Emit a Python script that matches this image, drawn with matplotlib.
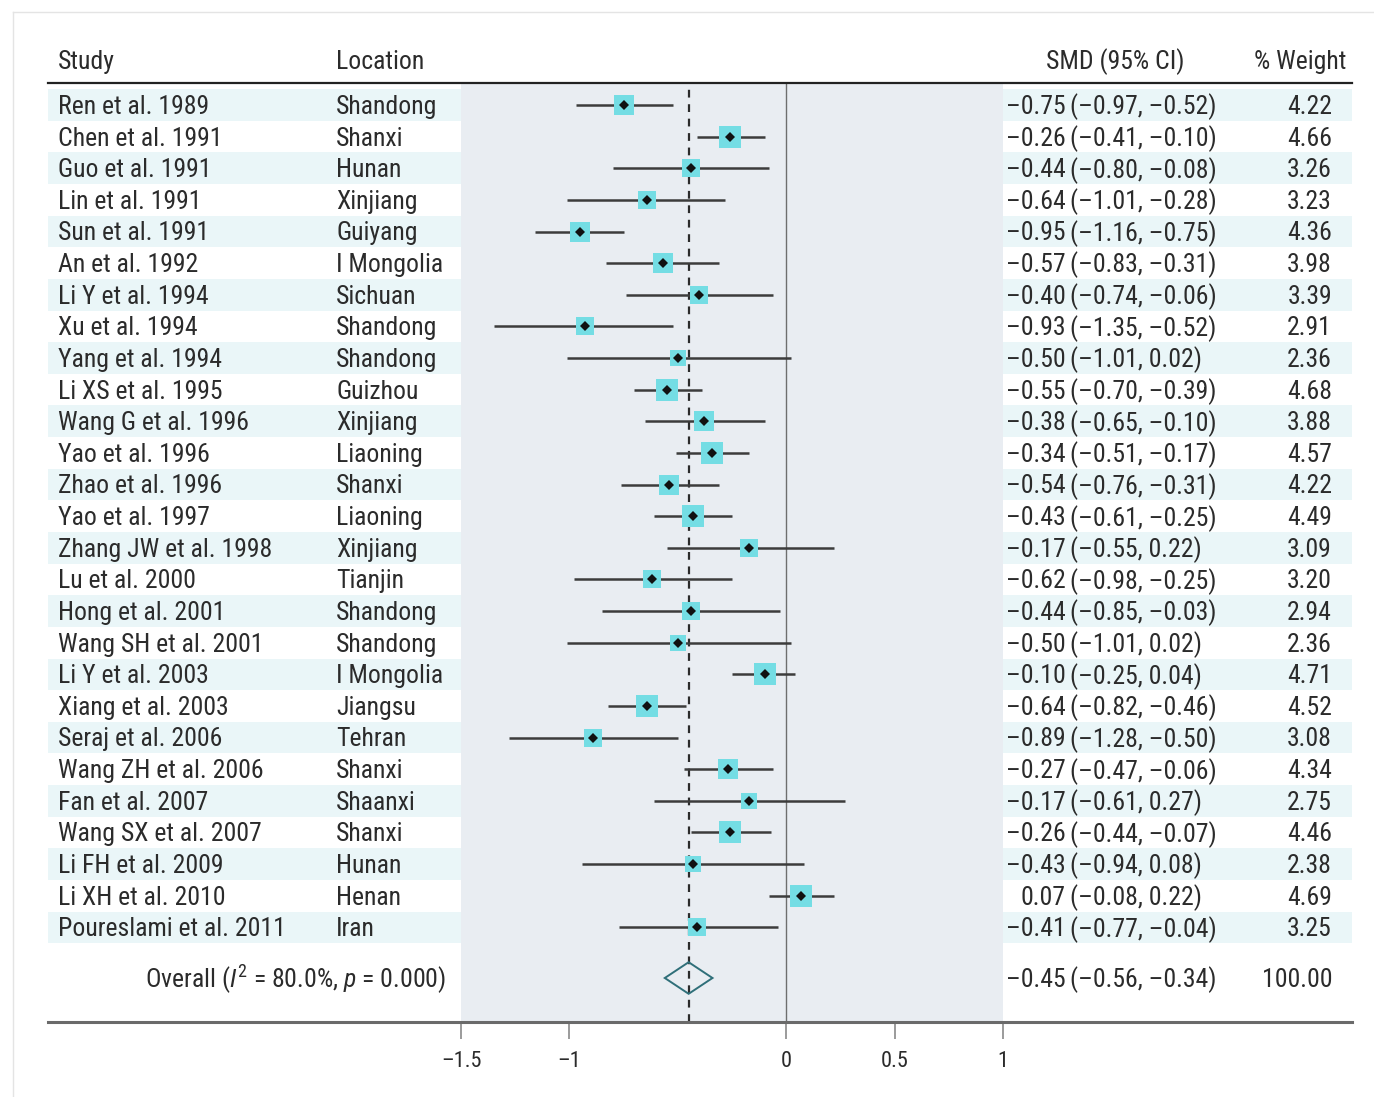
import matplotlib
matplotlib.use("Agg")
import matplotlib.pyplot as plt
import matplotlib.transforms as mtransforms
from matplotlib.patches import Rectangle, Polygon
from matplotlib.lines import Line2D
import numpy as np

plt.rcParams['font.family'] = ['Roboto Condensed', 'DejaVu Sans']
plt.rcParams['mathtext.fontset'] = 'custom'
plt.rcParams['mathtext.rm'] = 'Roboto Condensed'
plt.rcParams['mathtext.it'] = 'Roboto Condensed:italic'

# data
studies = ["Ren et al. 1989", "Chen et al. 1991", "Guo et al. 1991", "Lin et al. 1991",
           "Sun et al. 1991", "An et al. 1992", "Li Y et al. 1994", "Xu et al. 1994",
           "Yang et al. 1994", "Li XS et al. 1995", "Wang G et al. 1996", "Yao et al. 1996",
           "Zhao et al. 1996", "Yao et al. 1997", "Zhang JW et al. 1998", "Lu et al. 2000",
           "Hong et al. 2001", "Wang SH et al. 2001", "Li Y et al. 2003", "Xiang et al. 2003",
           "Seraj et al. 2006", "Wang ZH et al. 2006", "Fan et al. 2007", "Wang SX et al. 2007",
           "Li FH et al. 2009", "Li XH et al. 2010", "Poureslami et al. 2011"]
locations = ["Shandong", "Shanxi", "Hunan", "Xinjiang", "Guiyang", "I Mongolia", "Sichuan",
             "Shandong", "Shandong", "Guizhou", "Xinjiang", "Liaoning", "Shanxi", "Liaoning",
             "Xinjiang", "Tianjin", "Shandong", "Shandong", "I Mongolia", "Jiangsu", "Tehran",
             "Shanxi", "Shaanxi", "Shanxi", "Hunan", "Henan", "Iran"]
smd = [-0.75, -0.26, -0.44, -0.64, -0.95, -0.57, -0.40, -0.93, -0.50, -0.55, -0.38, -0.34,
       -0.54, -0.43, -0.17, -0.62, -0.44, -0.50, -0.10, -0.64, -0.89, -0.27, -0.17, -0.26,
       -0.43, 0.07, -0.41]
ci_lo = [-0.97, -0.41, -0.80, -1.01, -1.16, -0.83, -0.74, -1.35, -1.01, -0.70, -0.65, -0.51,
         -0.76, -0.61, -0.55, -0.98, -0.85, -1.01, -0.25, -0.82, -1.28, -0.47, -0.61, -0.44,
         -0.94, -0.08, -0.77]
ci_hi = [-0.52, -0.10, -0.08, -0.28, -0.75, -0.31, -0.06, -0.52, 0.02, -0.39, -0.10, -0.17,
         -0.31, -0.25, 0.22, -0.25, -0.03, 0.02, 0.04, -0.46, -0.50, -0.06, 0.27, -0.07,
         0.08, 0.22, -0.04]
weights = [4.22, 4.66, 3.26, 3.23, 4.36, 3.98, 3.39, 2.91, 2.36, 4.68, 3.88, 4.57, 4.22, 4.49,
           3.09, 3.20, 2.94, 2.36, 4.71, 4.52, 3.08, 4.34, 2.75, 4.46, 2.38, 4.69, 3.25]
overall = (-0.45, -0.56, -0.34)
overall_weight = 100.00
xticks = [-1.5, -1, 0, 0.5, 1]
xtick_labels = ["\u20131.5", "\u20131", "0", "0.5", "1"]


def fmt(v):
    return f"{v:.2f}".replace("-", "\u2013")


W, H = 1374, 1097
fig = plt.figure(figsize=(W / 100, H / 100), dpi=100)
fig.patch.set_facecolor("white")

# pixel layout
row0_px, row_step = 105.0, 31.63
top_px, bot_px = 83.0, 1022.0
x0_px, x1_px = 461.0, 1003.0
n = len(studies)
overall_row = (978.0 - row0_px) / row_step
dy = 0.06  # small nudge so text sits like the original

ax = fig.add_axes([x0_px / W, 1 - bot_px / H, (x1_px - x0_px) / W, (bot_px - top_px) / H])
ax.set_facecolor("#e9edf2")
ax.set_xlim(-1.5, 1)
ax.set_ylim((bot_px - row0_px) / row_step, (top_px - row0_px) / row_step)
for s in ax.spines.values():
    s.set_visible(False)
ax.set_yticks([])
ax.set_xticks(xticks)
ax.set_xticklabels(xtick_labels)
ax.tick_params(axis="x", length=12, width=1.2, color="#8a8a8a", pad=9,
               labelsize=16, labelcolor="#2b2b2b")

tr = mtransforms.blended_transform_factory(fig.transFigure, ax.transData)
px = lambda x: x / W

# page edge
fig.add_artist(Line2D([px(13), px(13)], [0, 1 - 12 / H], color="#e4e4e4", lw=1))
fig.add_artist(Line2D([px(13), 1], [1 - 12 / H, 1 - 12 / H], color="#e4e4e4", lw=1))

# row stripes
for i in range(0, n, 2):
    for xa, xb in [(48, x0_px), (x1_px, 1352)]:
        ax.add_patch(Rectangle((px(xa), i - 0.5), px(xb - xa), 1.0, transform=tr,
                               facecolor="#eaf6f8", edgecolor="none", clip_on=False, zorder=0))

# header and bottom lines
fig.add_artist(Line2D([px(48), px(1352)], [1 - top_px / H] * 2, color="#222222", lw=1.6))
fig.add_artist(Line2D([px(48), px(1352)], [1 - bot_px / H] * 2, color="#6a6a6a", lw=2.2))

# reference lines
ax.axvline(0, color="#6e6e6e", lw=1.0, zorder=1)
ax.axvline(overall[0], color="#2b2b2b", lw=1.6, ls=(0, (3.5, 3.0)), zorder=1)

# studies
ys = np.arange(n)
for i in range(n):
    ax.plot([ci_lo[i], ci_hi[i]], [ys[i], ys[i]], color="#3c3c3c", lw=1.8, zorder=2,
            solid_capstyle="butt")
    side = 10.0 * np.sqrt(weights[i]) / 1.389
    ax.plot(smd[i], ys[i], marker="s", ms=side, color="#74dde4", mew=0, zorder=3)
    ax.plot(smd[i], ys[i], marker="D", ms=5.6, color="#111111", mew=0, zorder=4)

# overall diamond
m, lo, hi = overall
ax.add_patch(Polygon([(lo, overall_row), (m, overall_row - 0.5), (hi, overall_row),
                      (m, overall_row + 0.5)], closed=True, facecolor="none",
                     edgecolor="#2f6f79", lw=1.4, zorder=3))

tc = "#2b2b2b"
fs = 18.5
# headers
hy = 1 - 62 / H
fig.text(px(58), hy, "Study", fontsize=fs, color=tc, va="center", ha="left")
fig.text(px(336), hy, "Location", fontsize=fs, color=tc, va="center", ha="left")
fig.text(px(1046), hy, "SMD (95% CI)", fontsize=fs, color=tc, va="center", ha="left")
fig.text(px(1346), hy, "% Weight", fontsize=fs, color=tc, va="center", ha="right")

for i in range(n):
    kw = dict(transform=tr, fontsize=fs, color=tc, va="center", clip_on=False)
    y = ys[i] + dy
    ax.text(px(58), y, studies[i], ha="left", **kw)
    ax.text(px(336), y, locations[i], ha="left", **kw)
    ax.text(px(1066), y, fmt(smd[i]), ha="right", **kw)
    ax.text(px(1070), y, f"({fmt(ci_lo[i])}, {fmt(ci_hi[i])})", ha="left", **kw)
    ax.text(px(1332), y, f"{weights[i]:.2f}", ha="right", **kw)

kw = dict(transform=tr, fontsize=fs, color=tc, va="center", clip_on=False)
y = overall_row + dy
ax.text(px(446), y, r"Overall ($\mathit{I}^2$ = 80.0%, $\mathit{p}$ = 0.000)",
        ha="right", **kw)
ax.text(px(1066), y, fmt(m), ha="right", **kw)
ax.text(px(1070), y, f"({fmt(lo)}, {fmt(hi)})", ha="left", **kw)
ax.text(px(1332), y, f"{overall_weight:.2f}", ha="right", **kw)

fig.savefig("out.png", dpi=100, facecolor="white")
